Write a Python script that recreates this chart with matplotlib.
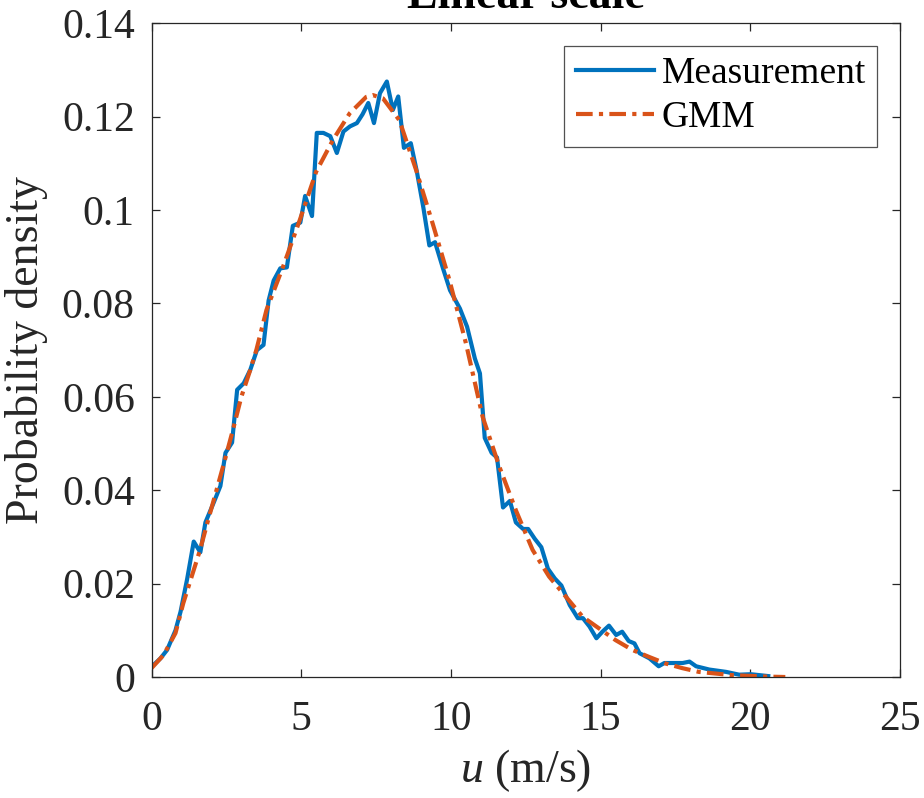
import matplotlib
matplotlib.use('Agg')
import matplotlib.pyplot as plt

plt.rcParams['font.family'] = ['Liberation Serif', 'DejaVu Serif']
plt.rcParams['mathtext.fontset'] = 'custom'
plt.rcParams['mathtext.rm'] = 'Liberation Serif'
plt.rcParams['mathtext.it'] = 'Liberation Serif:italic'

u_meas = [0.02, 0.3, 0.52, 0.8, 0.97, 1.19, 1.41, 1.63, 1.8, 2.08, 2.3, 2.47, 2.69,
          2.86, 3.08, 3.3, 3.52, 3.74, 3.91, 4.08, 4.3, 4.52, 4.72, 4.97, 5.13, 5.36,
          5.52, 5.74, 5.97, 6.19, 6.41, 6.63, 6.86, 7.05, 7.24, 7.43, 7.63, 7.86, 8.06,
          8.24, 8.43, 8.66, 8.86, 9.08, 9.28, 9.47, 9.74, 9.97, 10.3, 10.54, 10.8,
          10.97, 11.13, 11.36, 11.54, 11.74, 11.97, 12.17, 12.41, 12.58, 12.8, 13.02,
          13.24, 13.47, 13.69, 13.97, 14.24, 14.41, 14.63, 14.86, 15.06, 15.28, 15.52,
          15.72, 15.94, 16.13, 16.3, 16.63, 16.94, 17.13, 17.41, 17.74, 17.97, 18.19,
          18.63, 19.19, 19.63, 20.02, 20.6]
p_meas = [0.0023, 0.004, 0.0058, 0.010, 0.014, 0.021, 0.029, 0.0267, 0.0331, 0.0374,
          0.0409, 0.048, 0.0502, 0.0615, 0.0629, 0.0658, 0.070, 0.0711, 0.0806, 0.0849,
          0.0875, 0.0877, 0.0966, 0.0973, 0.103, 0.0987, 0.1165, 0.1165, 0.1158, 0.1122,
          0.1168, 0.1179, 0.1186, 0.1205, 0.1229, 0.1186, 0.125, 0.1275, 0.1214, 0.1243,
          0.1133, 0.1143, 0.1083, 0.1005, 0.0924, 0.0931, 0.0874, 0.0828, 0.0789, 0.075,
          0.0682, 0.065, 0.0512, 0.048, 0.047, 0.0363, 0.0377, 0.0331, 0.0317, 0.0317,
          0.0296, 0.0278, 0.0232, 0.0211, 0.0196, 0.0154, 0.0126, 0.0126, 0.0108, 0.0083,
          0.0097, 0.011, 0.009, 0.0097, 0.0077, 0.0072, 0.0051, 0.004, 0.0023, 0.003,
          0.003, 0.003, 0.0033, 0.0023, 0.0016, 0.0011, 0.0005, 0.0006, 0.0002]

# GMM fit
u_gmm = [0.0, 0.4, 0.8, 1.06, 1.34, 1.62, 1.89, 2.17, 2.45, 2.73, 3.0, 3.28, 3.5,
         3.84, 4.39, 4.95, 5.5, 6.06, 6.62, 7.17, 7.39, 7.73, 8.28, 8.84, 9.39, 9.95,
         10.5, 11.06, 11.62, 12.17, 12.73, 13.28, 13.84, 14.4, 14.95, 15.5, 16.06,
         16.62, 17.17, 17.73, 18.28, 19.39, 20.5, 21.17]
p_gmm = [0.0019, 0.0047, 0.0094, 0.0158, 0.0215, 0.0272, 0.0336, 0.040, 0.0465, 0.0532,
         0.060, 0.0654, 0.070, 0.0786, 0.0878, 0.0978, 0.1082, 0.115, 0.1207, 0.1242,
         0.1246, 0.1239, 0.1192, 0.1085, 0.0971, 0.085, 0.0715, 0.0557, 0.045, 0.0357,
         0.0272, 0.0215, 0.0172, 0.0129, 0.0104, 0.0079, 0.0058, 0.0043, 0.0029, 0.0019,
         0.0011, 0.0004, 0.0001, 0.0]

fig = plt.figure(figsize=(9.24, 7.98), dpi=100)
ax = fig.add_axes([0.164, 0.1516, 0.81, 0.8194])

ax.plot(u_meas, p_meas, color='#0072BD', lw=3, label='Measurement')
ax.plot(u_gmm, p_gmm, color='#D95319', lw=3, ls=(0, (4, 1.5, 1, 1.5)), label='GMM')

ax.set_xlim(0, 25)
ax.set_ylim(0, 0.14)
ax.set_xticks([0, 5, 10, 15, 20, 25])
ax.set_yticks([0, 0.02, 0.04, 0.06, 0.08, 0.1, 0.12, 0.14])
ax.set_yticklabels(['0', '0.02', '0.04', '0.06', '0.08', '0.1', '0.12', '0.14'])

for s in ax.spines.values():
    s.set_color('#262626')
    s.set_linewidth(0.9)
ax.tick_params(direction='in', length=6, width=0.9, color='#262626',
               top=True, right=True, labelsize=30, labelcolor='#262626')
ax.tick_params(axis='x', pad=17)
ax.tick_params(axis='y', pad=12)

ax.set_xlabel(r'$u$ (m/s)', fontsize=33, color='#262626', labelpad=6)
ax.set_ylabel('Probability density', fontsize=33, color='#262626', labelpad=10)
# title sits partly above the figure edge, as in the source image
ax.set_title('Linear scale', fontsize=33, fontweight='bold', pad=11)

leg = ax.legend(loc='upper right', fontsize=27, frameon=True, fancybox=False,
                borderaxespad=0.6, handlelength=2.1, handletextpad=0.2,
                labelspacing=0.25, borderpad=0.3)
leg.get_frame().set_edgecolor('#262626')
leg.get_frame().set_linewidth(0.9)

fig.savefig('out.png', dpi=100)
